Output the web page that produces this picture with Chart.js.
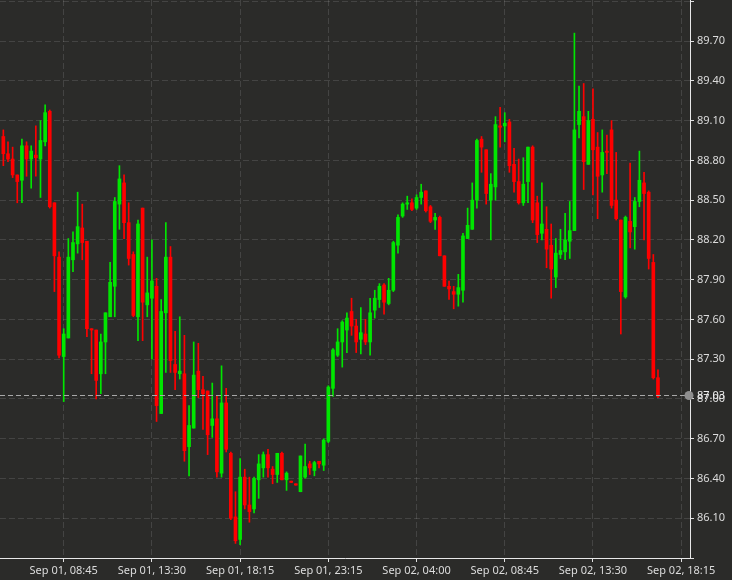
<!DOCTYPE html>
<html>
<head>
<meta charset="utf-8">
<script src="https://cdn.jsdelivr.net/npm/chart.js@4.4.0/dist/chart.umd.min.js"></script>
<style>
  html, body { margin: 0; padding: 0; background: #2b2b29; }
  #wrap { width: 732px; height: 580px; }
</style>
</head>
<body>
<div id="wrap"><canvas id="myChart" width="732" height="580"></canvas></div>
<script>
// 15 min candles, Sep 01 - Sep 02
var open = [88.98,88.85,88.81,88.69,88.65,88.91,88.81,88.84,88.81,88.94,
  89.17,88.48,88.07,87.32,87.46,88.05,88.17,88.29,88.19,87.53,
  87.52,87.19,87.43,87.62,87.85,88.47,88.63,88.33,88.09,87.62,
  88.44,87.71,87.76,87.85,86.89,87.65,88.07,87.26,87.19,87.19,
  86.64,86.78,87.21,87.07,87.06,86.80,86.85,86.44,86.97,86.59,
  86.11,85.94,86.41,86.20,86.17,86.39,86.48,86.58,86.47,86.43,
  86.59,86.39,86.38,86.36,86.30,86.41,86.51,86.46,86.53,86.50,
  86.68,87.08,87.33,87.43,87.52,87.66,87.55,87.45,87.49,87.43,
  87.67,87.75,87.86,87.72,87.82,88.16,88.38,88.47,88.48,88.44,
  88.52,88.57,88.45,88.35,88.37,88.08,87.85,87.81,87.79,87.82,
  88.21,88.28,88.50,88.96,88.88,88.50,88.60,89.06,89.06,89.09,
  88.77,88.64,88.48,88.64,88.90,88.48,88.25,88.28,88.16,87.92,
  88.09,88.11,88.19,88.27,89.07,89.13,88.77,89.11,88.90,88.69,
  88.87,89.03,88.50,88.35,87.77,88.34,88.30,88.49,88.63,88.56,
  88.03,87.16];
var close = [88.85,88.81,88.69,88.64,88.91,88.81,88.87,88.82,88.95,89.16,
  88.45,88.08,87.33,87.49,88.07,88.18,88.30,88.18,87.53,87.52,
  87.14,87.43,87.65,87.88,88.49,88.66,88.33,88.06,87.63,88.32,
  87.73,87.80,87.89,86.95,87.66,88.07,87.29,87.20,87.21,86.61,
  86.80,87.18,87.07,87.04,86.73,86.85,86.45,86.97,86.62,86.10,
  85.93,86.41,86.20,86.15,86.40,86.51,86.58,86.48,86.43,86.59,
  86.39,86.44,86.37,86.35,86.57,86.49,86.48,86.52,86.51,86.69,
  87.09,87.37,87.43,87.58,87.61,87.55,87.43,87.50,87.43,87.65,
  87.76,87.85,87.73,87.82,88.18,88.37,88.47,88.48,88.43,88.52,
  88.56,88.42,88.34,88.37,88.08,87.85,87.83,87.79,87.84,88.23,
  88.31,88.50,88.95,88.90,88.55,88.62,89.07,89.05,89.08,88.76,
  88.64,88.48,88.62,88.90,88.35,88.24,88.32,88.13,87.98,88.10,
  88.12,88.20,88.27,89.03,89.17,88.79,89.10,88.88,88.68,88.86,
  88.86,88.46,88.36,87.81,88.37,88.26,88.49,88.65,88.55,88.06,
  87.16,87.02];
var high = [89.03,88.94,88.90,88.69,88.96,88.94,88.91,89.06,89.10,89.22,
  89.18,88.48,88.11,87.53,88.21,88.26,88.56,88.47,88.19,87.53,
  87.52,87.49,87.65,88.03,88.52,88.76,88.69,88.48,88.11,88.35,
  88.44,88.07,88.20,87.91,87.75,88.33,88.15,87.51,87.62,87.48,
  86.95,87.43,87.42,87.17,87.06,87.12,87.02,87.25,87.08,86.60,
  86.30,86.55,86.47,86.41,86.41,86.58,86.60,86.62,86.49,86.59,
  86.60,86.45,86.38,86.36,86.57,86.66,86.53,86.53,86.53,86.70,
  87.10,87.38,87.53,87.59,87.65,87.76,87.60,87.69,87.60,87.76,
  87.82,87.87,87.87,87.91,88.19,88.39,88.48,88.53,88.51,88.54,
  88.62,88.57,88.46,88.40,88.38,88.08,87.89,87.85,87.94,88.25,
  88.44,88.63,88.96,88.98,88.88,88.70,89.13,89.20,89.16,89.11,
  88.89,88.81,88.82,88.90,88.91,88.53,88.63,88.45,88.32,88.21,
  88.28,88.40,88.49,89.76,89.36,89.38,89.17,89.34,89.01,89.03,
  88.99,89.10,88.86,88.35,88.38,88.78,88.52,88.87,88.71,88.57,
  88.09,87.22];
var low = [88.76,88.79,88.67,88.48,88.48,88.68,88.59,88.68,88.52,88.91,
  88.44,87.81,87.31,86.98,87.46,87.96,88.10,88.05,87.47,87.19,
  87.00,87.04,87.19,87.62,87.62,88.28,88.21,88.01,87.62,87.44,
  87.44,87.62,87.30,86.83,86.89,87.20,87.20,87.07,87.15,86.53,
  86.42,86.78,87.01,86.77,86.58,86.71,86.41,86.41,86.60,86.09,
  85.91,85.90,86.17,86.07,86.14,86.25,86.41,86.41,86.36,86.37,
  86.39,86.31,86.37,86.35,86.30,86.40,86.43,86.42,86.48,86.46,
  86.67,87.02,87.32,87.24,87.35,87.48,87.35,87.34,87.41,87.33,
  87.61,87.69,87.64,87.71,87.81,88.10,88.37,88.43,88.42,88.43,
  88.47,88.41,88.33,88.28,88.08,87.85,87.75,87.68,87.70,87.73,
  88.21,88.28,88.44,88.71,88.47,88.20,88.50,88.90,88.94,88.71,
  88.56,88.47,88.46,88.48,88.33,88.18,88.20,87.99,87.76,87.84,
  88.06,88.05,88.06,88.27,88.97,88.58,88.77,88.54,88.36,88.56,
  88.70,88.44,88.35,87.49,87.76,88.14,88.13,88.45,88.20,87.98,
  87.15,87.01];

// x axis: candle index -> time label
var xTickIdx = [13, 32, 51, 70, 89, 108, 127, 146];
var xTickLabels = ['Sep 01, 08:45', 'Sep 01, 13:30', 'Sep 01, 18:15', 'Sep 01, 23:15',
  'Sep 02, 04:00', 'Sep 02, 08:45', 'Sep 02, 13:30', 'Sep 02, 18:15'];
var yTickValues = [85.8, 86.1, 86.4, 86.7, 87.0, 87.3, 87.6, 87.9, 88.2, 88.5, 88.8, 89.1, 89.4, 89.7, 90.0];
var lastPrice = 87.03;

var UP = '#00e600';
var DOWN = '#ff0000';
var TXT = '#dcdcdc';

var bodies = [];
var wicks = [];
var colors = [];
for (let i = 0; i < open.length; i++) {
    bodies.push({ x: i, y: [open[i], close[i]] });
    wicks.push({ x: i, y: [low[i], high[i]] });
    colors.push(close[i] >= open[i] ? UP : DOWN);
}

// dashed last price line + marker
const lastPricePlugin = {
    id: 'lastPrice',
    afterDraw(chart) {
        const ctx = chart.ctx;
        const a = chart.chartArea;
        const y = Math.round(chart.scales.y.getPixelForValue(lastPrice)) + 0.5;
        ctx.save();
        ctx.strokeStyle = '#a8a8a8';
        ctx.lineWidth = 1;
        ctx.setLineDash([5, 3]);
        ctx.beginPath();
        ctx.moveTo(a.left, y);
        ctx.lineTo(a.right, y);
        ctx.stroke();
        ctx.setLineDash([]);
        ctx.fillStyle = '#8e8e8e';
        ctx.beginPath();
        ctx.arc(a.right - 1, y, 4.5, 0, Math.PI * 2);
        ctx.fill();
        ctx.fillStyle = '#f0f0f0';
        ctx.font = '11px "Noto Sans"';
        ctx.textBaseline = 'middle';
        ctx.textAlign = 'left';
        ctx.fillText(lastPrice.toFixed(2), a.right + 7, y);
        ctx.restore();
    }
};

var ctx = document.getElementById('myChart');
var chart = new Chart(ctx, {
    type: 'bar',
    data: {
        datasets: [
            {
                label: 'wick',
                data: wicks,
                backgroundColor: colors,
                borderWidth: 0,
                barThickness: 1,
                grouped: false,
                order: 2
            },
            {
                label: 'body',
                data: bodies,
                backgroundColor: colors,
                borderWidth: 0,
                barThickness: 3,
                minBarLength: 1,
                grouped: false,
                order: 1
            }
        ]
    },
    options: {
        responsive: false,
        animation: false,
        maintainAspectRatio: false,
        layout: { padding: 0 },
        scales: {
            x: {
                type: 'linear',
                offset: false,
                min: -0.72,
                max: 147.9,
                afterBuildTicks: (scale) => {
                    scale.ticks = xTickIdx.map(v => ({ value: v }));
                },
                afterFit: (scale) => {
                    scale.height = 22;
                    scale.paddingLeft = 0;
                    scale.paddingRight = 0;
                },
                ticks: {
                    color: TXT,
                    font: { size: 11, family: '"Noto Sans"' },
                    padding: 2,
                    maxRotation: 0,
                    autoSkip: false,
                    callback: (value, index) => xTickLabels[index]
                },
                grid: {
                    offset: false,
                    color: 'rgba(255,255,255,0.12)',
                    tickColor: '#e0e0e0',
                    tickLength: 4
                },
                border: { color: '#e8e8e8', width: 1, dash: [6, 3] }
            },
            y: {
                position: 'right',
                min: 85.8,
                max: 90.01,
                afterBuildTicks: (scale) => {
                    scale.ticks = yTickValues.map(v => ({ value: v }));
                },
                afterFit: (scale) => {
                    scale.width = 42;
                    scale.paddingTop = 0;
                    scale.paddingBottom = 0;
                },
                ticks: {
                    color: TXT,
                    font: { size: 11, family: '"Noto Sans"' },
                    padding: 3,
                    callback: (value, index) => (index === 0 || index === yTickValues.length - 1) ? '' : value.toFixed(2)
                },
                grid: {
                    color: 'rgba(255,255,255,0.12)',
                    tickColor: '#e0e0e0',
                    tickLength: 4
                },
                border: { color: '#e8e8e8', width: 1, dash: [6, 3] }
            }
        },
        plugins: {
            legend: { display: false },
            tooltip: { enabled: false },
            title: { display: false }
        }
    },
    plugins: [lastPricePlugin]
});
</script>
</body>
</html>
